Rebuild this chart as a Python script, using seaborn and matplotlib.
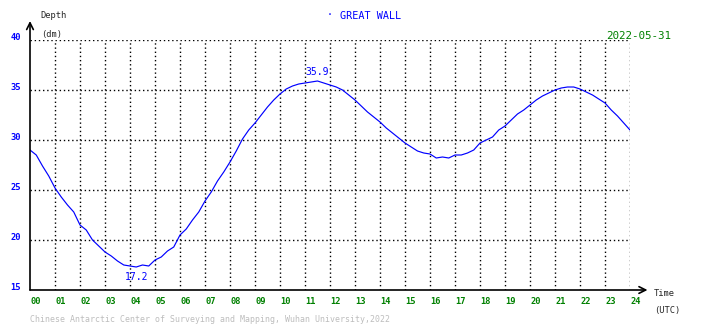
import numpy as np
import pandas as pd
import seaborn as sns
import matplotlib
matplotlib.use("Agg")
import matplotlib.pyplot as plt

# tide depth (dm), every 15 minutes from 00:00 to 24:00 UTC
hours = [i / 4 for i in range(97)]
depth = [
    29.0, 28.5, 27.4, 26.4, 25.2, 24.3, 23.5, 22.8,
    21.5, 21.0, 20.0, 19.4, 18.8, 18.4, 17.9, 17.5,
    17.4, 17.3, 17.5, 17.4, 18.0, 18.3, 18.9, 19.3,
    20.5, 21.1, 22.0, 22.8, 23.9, 24.8, 25.9, 26.8,
    27.8, 28.9, 30.1, 31.0, 31.7, 32.5, 33.3, 34.0,
    34.6, 35.1, 35.4, 35.6, 35.7, 35.8, 35.9, 35.7,
    35.5, 35.3, 35.0, 34.5, 34.0, 33.4, 32.8, 32.3,
    31.8, 31.2, 30.7, 30.2, 29.7, 29.3, 28.9, 28.7,
    28.6, 28.2, 28.3, 28.2, 28.5, 28.5, 28.7, 29.0,
    29.7, 30.0, 30.3, 31.0, 31.4, 32.0, 32.6, 33.0,
    33.5, 34.0, 34.4, 34.7, 35.0, 35.2, 35.3, 35.3,
    35.1, 34.8, 34.5, 34.1, 33.7, 33.0, 32.4, 31.7,
    31.0,
]
x_ticks = list(range(25))
x_labels = [f"{h:02d}" for h in x_ticks]
y_ticks = [15, 20, 25, 30, 35, 40]
max_label = (11.5, 35.9)
min_label = (4.25, 17.2)

station = "GREAT WALL"
date = "2022-05-31"
footer = "Chinese Antarctic Center of Surveying and Mapping, Wuhan University,2022"

BLUE = "#0000ff"
GREEN = "#008000"

sns.set_style("white")
plt.rcParams["font.family"] = ["DejaVu Sans Mono"]

df = pd.DataFrame({"hour": hours, "depth": depth})

fig = plt.figure(figsize=(7.1, 3.28), dpi=100)
ax = fig.add_axes([30 / 710, 38 / 328, 600 / 710, 250 / 328])

sns.lineplot(data=df, x="hour", y="depth", ax=ax, color=BLUE, lw=0.85)

ax.set_xlim(0, 24)
ax.set_ylim(15, 40)
ax.set_xticks(x_ticks)
ax.set_yticks(y_ticks)
ax.set_xticklabels([])
ax.set_yticklabels([])
ax.tick_params(length=0)
ax.set_xlabel("")
ax.set_ylabel("")
for s in ["top", "right", "left", "bottom"]:
    ax.spines[s].set_visible(False)

# dotted grid
for h in x_ticks[1:]:
    ax.plot([h, h], [15, 40], color="black", ls=(0, (1, 2)), lw=1, zorder=0)
for d in y_ticks[1:]:
    ax.plot([0, 24], [d, d], color="black", ls=(0, (1, 2)), lw=1, zorder=0)

# axes with open arrow heads
ax.annotate("", xy=(24.7, 15), xytext=(0, 15), annotation_clip=False,
            arrowprops=dict(arrowstyle="->", color="black", lw=1.2,
                            shrinkA=0, shrinkB=0, mutation_scale=12))
ax.annotate("", xy=(0, 41.9), xytext=(0, 15), annotation_clip=False,
            arrowprops=dict(arrowstyle="->", color="black", lw=1.2,
                            shrinkA=0, shrinkB=0, mutation_scale=12))

# tick labels
for h, lab in zip(x_ticks, x_labels):
    ax.text(h + 0.02, 13.8, lab, color=GREEN, fontsize=6.3, ha="left",
            va="center", fontweight="bold")
for d in y_ticks:
    ax.text(-0.36, d + 0.2, str(d), color=BLUE, fontsize=6.3, ha="right",
            va="center", fontweight="bold")

ax.text(max_label[0], max_label[1] + 0.9, f"{max_label[1]}", color=BLUE,
        fontsize=7, ha="center", va="center")
ax.text(min_label[0], min_label[1] - 0.9, f"{min_label[1]}", color=BLUE,
        fontsize=7, ha="center", va="center")

# figure texts
fig.text(40 / 710, 1 - 16 / 328, "Depth", fontsize=6.3, va="center", ha="left")
fig.text(41 / 710, 1 - 34 / 328, "(dm)", fontsize=6.3, va="center", ha="left")
fig.text(654 / 710, 1 - 294 / 328, "Time", fontsize=6.3, va="center", ha="left")
fig.text(654 / 710, 1 - 310 / 328, "(UTC)", fontsize=6.3, va="center", ha="left")
fig.text(330 / 710, 1 - 15 / 328, "·", color=BLUE, fontsize=7, va="center",
         ha="center")
fig.text(340 / 710, 1 - 16 / 328, station, color=BLUE, fontsize=7.3,
         va="center", ha="left")
fig.text(671 / 710, 1 - 36 / 328, date, color=GREEN, fontsize=7.8,
         va="center", ha="right")
fig.text(30 / 710, 1 - 320 / 328, footer, color="#bdbdbd", fontsize=5.95,
         va="center", ha="left")

fig.savefig("out.png", dpi=100)
